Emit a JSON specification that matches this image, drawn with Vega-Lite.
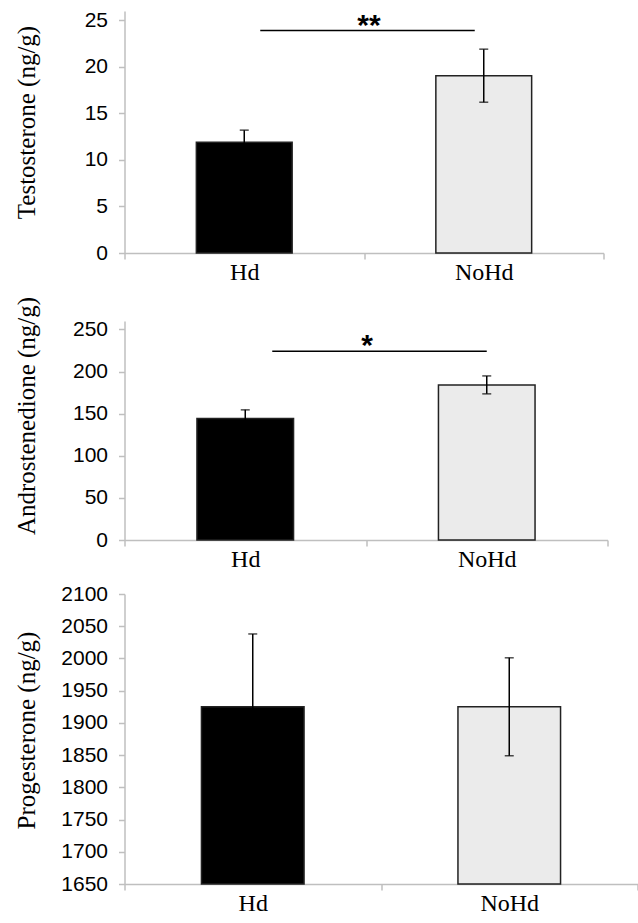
{
  "$schema": "https://vega.github.io/schema/vega-lite/v6.json",
  "background": "white",
  "padding": {"left": 13.5, "top": 9, "right": 0, "bottom": 0},
  "spacing": 12,
  "datasets": {
    "testo": [
      {"group": "Hd", "mean": 11.9, "lo": 10.6, "hi": 13.2},
      {"group": "NoHd", "mean": 19.05, "lo": 16.2, "hi": 21.9}
    ],
    "andro": [
      {"group": "Hd", "mean": 144.2, "lo": 134.0, "hi": 154.5},
      {"group": "NoHd", "mean": 184.1, "lo": 173.5, "hi": 194.8}
    ],
    "proge": [
      {"group": "Hd", "mean": 1925, "lo": 1812, "hi": 2038},
      {"group": "NoHd", "mean": 1925, "lo": 1849, "hi": 2001}
    ],
    "sig1": [{"from": "Hd", "to": "NoHd", "y": 23.9, "label": "**"}],
    "sig2": [{"from": "Hd", "to": "NoHd", "y": 224, "label": "*"}]
  },
  "config": {
    "view": {"stroke": null},
    "axis": {
      "domainColor": "#bfbfbf",
      "domainWidth": 1.5,
      "tickColor": "#bfbfbf",
      "tickWidth": 1.5,
      "tickSize": 6,
      "grid": false,
      "labelColor": "#000000"
    },
    "axisX": {
      "labelFont": "Liberation Serif",
      "labelFontSize": 24,
      "labelAngle": 0,
      "labelPadding": 1,
      "tickBand": "extent",
      "title": null
    },
    "axisY": {
      "labelFont": "Liberation Sans",
      "labelFontSize": 21,
      "labelPadding": 11,
      "titleFont": "Liberation Serif",
      "titleFontSize": 25,
      "titleFontWeight": "normal",
      "titleColor": "#000000",
      "titleBaseline": "middle",
      "titleX": -98
    }
  },
  "vconcat": [
    {
      "width": 479,
      "height": 242,
      "layer": [
        {
          "data": {"name": "testo"},
          "mark": {"type": "bar", "width": {"band": 0.4}, "stroke": "#222222", "strokeWidth": 1.5},
          "encoding": {
            "x": {"field": "group", "type": "nominal", "sort": ["Hd", "NoHd"], "scale": {"paddingInner": 0, "paddingOuter": 0}},
            "y": {"field": "mean", "type": "quantitative", "scale": {"domain": [0, 25]}, "axis": {"values": [0, 5, 10, 15, 20, 25], "tickCount": 20, "labelOverlap": false, "title": "Testosterone (ng/g)", "titleY": 111}},
            "color": {"field": "group", "type": "nominal", "scale": {"domain": ["Hd", "NoHd"], "range": ["#000000", "#ebebeb"]}, "legend": null}
          }
        },
        {
          "data": {"name": "testo"},
          "mark": {"type": "rule", "color": "#000000", "strokeWidth": 1.5},
          "encoding": {
            "x": {"field": "group", "type": "nominal"},
            "y": {"field": "lo", "type": "quantitative"},
            "y2": {"field": "hi"}
          }
        },
        {
          "data": {"name": "testo"},
          "mark": {"type": "tick", "color": "#000000", "size": 9, "thickness": 1.5},
          "encoding": {
            "x": {"field": "group", "type": "nominal"},
            "y": {"field": "lo", "type": "quantitative"}
          }
        },
        {
          "data": {"name": "testo"},
          "mark": {"type": "tick", "color": "#000000", "size": 9, "thickness": 1.5},
          "encoding": {
            "x": {"field": "group", "type": "nominal"},
            "y": {"field": "hi", "type": "quantitative"}
          }
        },
        {
          "data": {"name": "sig1"},
          "mark": {"type": "rule", "color": "#000000", "strokeWidth": 1.5, "xOffset": 16, "x2Offset": -9},
          "encoding": {
            "x": {"field": "from", "type": "nominal"},
            "x2": {"field": "to"},
            "y": {"field": "y", "type": "quantitative"}
          }
        },
        {
          "data": {"name": "sig1"},
          "mark": {"type": "text", "font": "Liberation Sans", "fontSize": 30, "fontWeight": "bold", "baseline": "alphabetic", "dx": 5, "dy": 4, "color": "#000000"},
          "encoding": {
            "x": {"field": "to", "type": "nominal", "bandPosition": 0},
            "y": {"field": "y", "type": "quantitative"},
            "text": {"field": "label"}
          }
        }
      ]
    },
    {
      "width": 483,
      "height": 219,
      "layer": [
        {
          "data": {"name": "andro"},
          "mark": {"type": "bar", "width": {"band": 0.4}, "stroke": "#222222", "strokeWidth": 1.5},
          "encoding": {
            "x": {"field": "group", "type": "nominal", "sort": ["Hd", "NoHd"], "scale": {"paddingInner": 0, "paddingOuter": 0}},
            "y": {"field": "mean", "type": "quantitative", "scale": {"domain": [0, 250]}, "axis": {"values": [0, 50, 100, 150, 200, 250], "tickCount": 20, "labelOverlap": false, "title": "Androstenedione (ng/g)", "titleY": 94.5}},
            "color": {"field": "group", "type": "nominal", "scale": {"domain": ["Hd", "NoHd"], "range": ["#000000", "#ebebeb"]}, "legend": null}
          }
        },
        {
          "data": {"name": "andro"},
          "mark": {"type": "rule", "color": "#000000", "strokeWidth": 1.5},
          "encoding": {
            "x": {"field": "group", "type": "nominal"},
            "y": {"field": "lo", "type": "quantitative"},
            "y2": {"field": "hi"}
          }
        },
        {
          "data": {"name": "andro"},
          "mark": {"type": "tick", "color": "#000000", "size": 9, "thickness": 1.5},
          "encoding": {
            "x": {"field": "group", "type": "nominal"},
            "y": {"field": "lo", "type": "quantitative"}
          }
        },
        {
          "data": {"name": "andro"},
          "mark": {"type": "tick", "color": "#000000", "size": 9, "thickness": 1.5},
          "encoding": {
            "x": {"field": "group", "type": "nominal"},
            "y": {"field": "hi", "type": "quantitative"}
          }
        },
        {
          "data": {"name": "sig2"},
          "mark": {"type": "rule", "color": "#000000", "strokeWidth": 1.5, "xOffset": 27, "x2Offset": 0},
          "encoding": {
            "x": {"field": "from", "type": "nominal"},
            "x2": {"field": "to"},
            "y": {"field": "y", "type": "quantitative"}
          }
        },
        {
          "data": {"name": "sig2"},
          "mark": {"type": "text", "font": "Liberation Sans", "fontSize": 30, "fontWeight": "bold", "baseline": "alphabetic", "dx": 1, "dy": 4, "color": "#000000"},
          "encoding": {
            "x": {"field": "to", "type": "nominal", "bandPosition": 0},
            "y": {"field": "y", "type": "quantitative"},
            "text": {"field": "label"}
          }
        }
      ]
    },
    {
      "width": 513,
      "height": 290,
      "layer": [
        {
          "data": {"name": "proge"},
          "mark": {"type": "bar", "width": {"band": 0.4}, "stroke": "#222222", "strokeWidth": 1.5},
          "encoding": {
            "x": {"field": "group", "type": "nominal", "sort": ["Hd", "NoHd"], "scale": {"paddingInner": 0, "paddingOuter": 0}},
            "y": {"field": "mean", "type": "quantitative", "scale": {"domain": [1650, 2100], "zero": false, "nice": false}, "axis": {"values": [1650, 1700, 1750, 1800, 1850, 1900, 1950, 2000, 2050, 2100], "tickCount": 20, "labelOverlap": false, "format": "d", "title": "Progesterone (ng/g)", "titleY": 136}},
            "y2": {"datum": 1650},
            "color": {"field": "group", "type": "nominal", "scale": {"domain": ["Hd", "NoHd"], "range": ["#000000", "#ebebeb"]}, "legend": null}
          }
        },
        {
          "data": {"name": "proge"},
          "mark": {"type": "rule", "color": "#000000", "strokeWidth": 1.5},
          "encoding": {
            "x": {"field": "group", "type": "nominal"},
            "y": {"field": "lo", "type": "quantitative"},
            "y2": {"field": "hi"}
          }
        },
        {
          "data": {"name": "proge"},
          "mark": {"type": "tick", "color": "#000000", "size": 9, "thickness": 1.5},
          "encoding": {
            "x": {"field": "group", "type": "nominal"},
            "y": {"field": "lo", "type": "quantitative"}
          }
        },
        {
          "data": {"name": "proge"},
          "mark": {"type": "tick", "color": "#000000", "size": 9, "thickness": 1.5},
          "encoding": {
            "x": {"field": "group", "type": "nominal"},
            "y": {"field": "hi", "type": "quantitative"}
          }
        }
      ]
    }
  ]
}
